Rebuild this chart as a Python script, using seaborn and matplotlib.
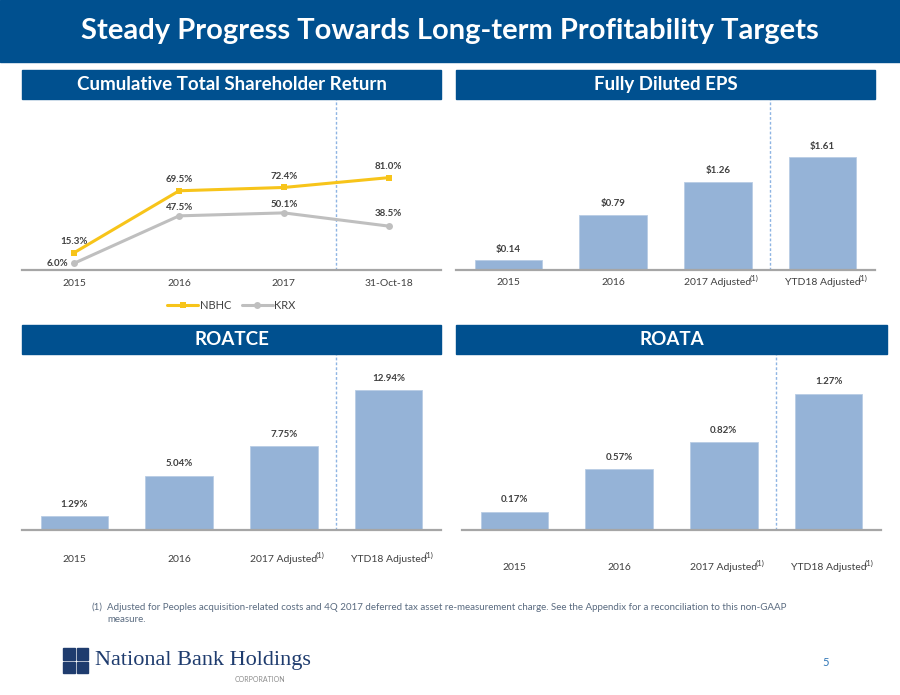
import matplotlib
matplotlib.use("Agg")
import matplotlib.pyplot as plt
from matplotlib.patches import Rectangle
import seaborn as sns
import pandas as pd

# ---------------- data ----------------
tsr_periods = ["2015", "2016", "2017", "31-Oct-18"]
tsr_nbhc = [15.3, 69.5, 72.4, 81.0]
tsr_krx = [6.0, 47.5, 50.1, 38.5]

bar_cats = ["2015", "2016", "2017 Adjusted", "YTD18 Adjusted"]
footnote_marks = ["", "", "(1)", "(1)"]
eps_vals = [0.14, 0.79, 1.26, 1.61]
roatce_vals = [1.29, 5.04, 7.75, 12.94]
roata_vals = [0.17, 0.57, 0.82, 1.27]

title_text = "Steady Progress Towards Long-term Profitability Targets"
panel_titles = ["Cumulative Total Shareholder Return", "Fully Diluted EPS", "ROATCE", "ROATA"]
footnote = ("Adjusted for Peoples acquisition-related costs and 4Q 2017 deferred tax asset "
            "re-measurement charge. See the Appendix for a reconciliation to this non-GAAP")
footnote2 = "measure."

# ---------------- style ----------------
sns.set_theme(style="white")
plt.rcParams["font.family"] = ["Lato", "DejaVu Sans"]

NAVY = "#00508F"
BAR = "#95B3D7"
GOLD = "#F7C41A"
GREY = "#BFBFBF"
AXIS = "#A6A6A6"
TXT = "#404040"

W, H = 900, 695
fig = plt.figure(figsize=(9, 6.95), dpi=100)


def rect(l, t, r, b):
    return [l / W, 1 - b / H, (r - l) / W, (b - t) / H]


def band(l, t, r, b, text, size=13.5):
    fig.patches.append(Rectangle((l / W, 1 - b / H), (r - l) / W, (b - t) / H,
                                 transform=fig.transFigure, color=NAVY, zorder=0))
    fig.text((l + r) / 2 / W, 1 - (t + b) / 2 / H, text, color="white", fontsize=size,
             fontweight="bold", ha="center", va="center")


# Title band
band(0, 0, 900, 62, title_text, size=21)

# Panel header bands
band(22, 70, 441, 99, panel_titles[0])
band(456, 70, 875, 99, panel_titles[1])
band(22, 325, 441, 354, panel_titles[2])
band(456, 325, 887, 354, panel_titles[3])


def style_ax(ax, pad):
    for s in ["top", "right", "left"]:
        ax.spines[s].set_visible(False)
    ax.spines["bottom"].set_color(AXIS)
    ax.spines["bottom"].set_linewidth(1.6)
    ax.set_yticks([])
    ax.set_xlabel("")
    ax.set_ylabel("")
    ax.tick_params(axis="x", length=0, pad=pad, labelsize=7.5, labelcolor=TXT)
    ax.set_xlim(-0.5, 3.5)
    ax.patch.set_alpha(0)


def vline(ax):
    ax.axvline(2.5, color="#8EB4E3", linestyle=(0, (2, 1.5)), linewidth=1, zorder=0)


# ---------------- TSR line chart ----------------
ax1 = fig.add_axes(rect(22, 99, 441, 270))
df_tsr = pd.DataFrame({"period": tsr_periods, "NBHC": tsr_nbhc, "KRX": tsr_krx})
sns.lineplot(data=df_tsr, x="period", y="NBHC", color=GOLD, marker="s", markersize=5,
             markeredgewidth=0, linewidth=2.2, ax=ax1, label="NBHC", sort=False)
sns.lineplot(data=df_tsr, x="period", y="KRX", color=GREY, marker="o", markersize=5,
             markeredgewidth=0, linewidth=2.2, ax=ax1, label="KRX", sort=False)
ax1.set_ylim(0, 150)
style_ax(ax1, pad=6.5)
vline(ax1)
for i, v in enumerate(tsr_nbhc):
    ax1.annotate(f"{v:.1f}%", (i, v), xytext=(0, 8), textcoords="offset points",
                 ha="center", va="center", fontsize=7, fontweight="bold", color=TXT)
for i, v in enumerate(tsr_krx):
    if i == 0:
        ax1.annotate(f"{v:.1f}%", (i, v), xytext=(-12, 0), textcoords="offset points",
                     ha="center", va="center", fontsize=7, fontweight="bold", color=TXT)
    else:
        off = 9 if i == 3 else 6
        ax1.annotate(f"{v:.1f}%", (i, v), xytext=(0, off), textcoords="offset points",
                     ha="center", va="center", fontsize=7, fontweight="bold", color=TXT)
ax1.legend(loc="upper center", bbox_to_anchor=(0.5, -0.115), ncol=2, frameon=False,
           fontsize=8, handlelength=2.8, columnspacing=0.9, handletextpad=0.15,
           labelcolor=TXT)


# ---------------- bar charts ----------------
def bar_panel(box, vals, ymax, fmt, pad, lab_off):
    ax = fig.add_axes(rect(*box))
    df = pd.DataFrame({"cat": bar_cats, "val": vals})
    sns.barplot(data=df, x="cat", y="val", color=BAR, saturation=1, width=0.645,
                edgecolor="#B9CDE5", linewidth=0.6, ax=ax)
    ax.set_ylim(0, ymax)
    style_ax(ax, pad=pad)
    vline(ax)
    for i, v in enumerate(vals):
        ax.annotate(fmt(v), (i, v), xytext=(0, lab_off), textcoords="offset points",
                    ha="center", va="center", fontsize=7, fontweight="bold", color=TXT)
    for lab, mark in zip(ax.get_xticklabels(), footnote_marks):
        if mark:
            ax.annotate(mark, xy=(1.0, 1.0), xycoords=lab, xytext=(-1.0, 0),
                        textcoords="offset points", ha="left", va="center",
                        fontsize=5.8, color=TXT)
    return ax


bar_panel((456, 99, 875, 270), eps_vals, 2.44, lambda v: f"${v:.2f}", 6, 8)
bar_panel((22, 354, 441, 530), roatce_vals, 16.3, lambda v: f"{v:.2f}%", 18, 8.5)
bar_panel((462, 354, 881, 530), roata_vals, 1.64, lambda v: f"{v:.2f}%", 24, 8.5)

# ---------------- footnote & logo ----------------
fig.text(91 / W, 1 - 607 / H, "(1)", fontsize=7, color="#5A6B80", va="center", ha="left")
fig.text(107 / W, 1 - 607 / H, footnote, fontsize=7.05, color="#5A6B80", va="center", ha="left")
fig.text(107 / W, 1 - 620 / H, footnote2, fontsize=7.05, color="#5A6B80", va="center", ha="left")

# logo squares
for (x0, y0) in [(63, 648), (76.5, 648), (63, 661.5), (76.5, 661.5)]:
    fig.patches.append(Rectangle((x0 / W, 1 - (y0 + 11.5) / H), 11.5 / W, 11.5 / H,
                                 transform=fig.transFigure, color="#1F3C6E", zorder=1))
fig.text(95 / W, 1 - 661 / H, "National Bank Holdings", family="Liberation Serif",
         fontsize=16, color="#1F3C6E", va="center", ha="left")
fig.text(260 / W, 1 - 679 / H, "CORPORATION", fontsize=5, color="#8C8C8C",
         va="center", ha="center")
fig.text(826 / W, 1 - 663 / H, "5", fontsize=8, color="#2E75B6", va="center", ha="center")

fig.savefig("out.png", dpi=100)
